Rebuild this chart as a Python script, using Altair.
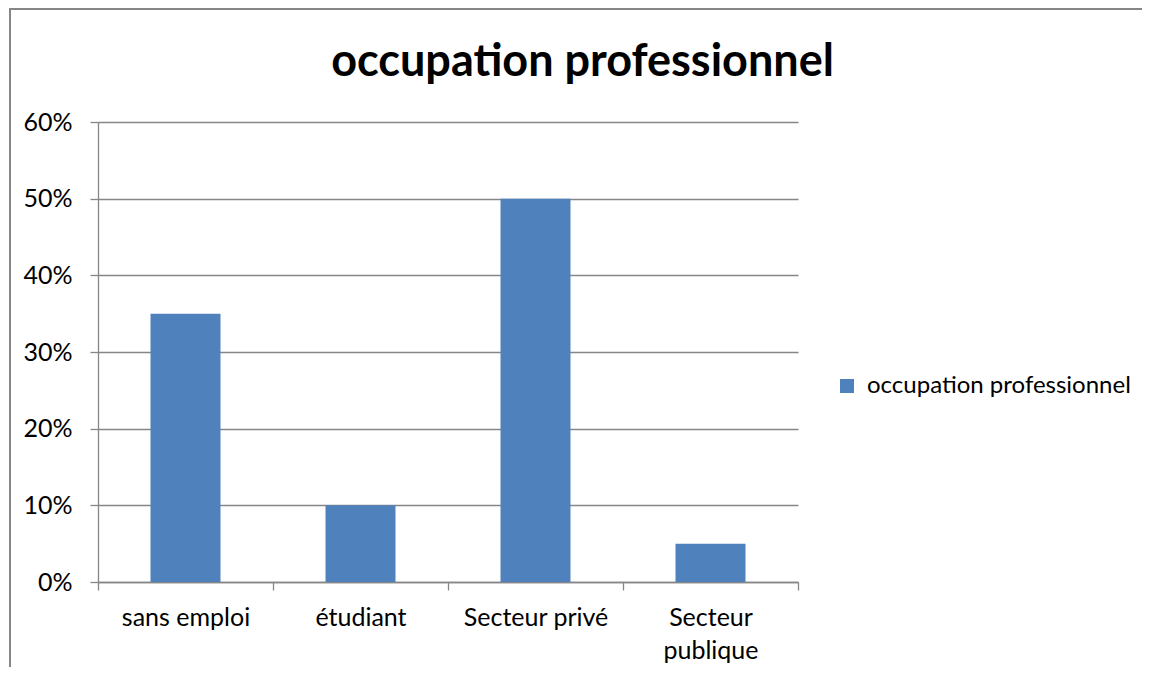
import altair as alt
import pandas as pd

# ---- data ----
categories = ["sans emploi", "étudiant", "Secteur privé", "Secteur publique"]
values = [0.35, 0.10, 0.50, 0.05]
series_name = "occupation professionnel"
title_text = "occupation professionnel"
y_ticks = [0, 0.1, 0.2, 0.3, 0.4, 0.5, 0.6]

FONT = "Lato"
GRAY = "#868686"
BLUE = "#4F81BD"
LABEL_SIZE = 25

df = pd.DataFrame({"cat": categories, "val": values, "series": [series_name] * len(categories)})

bars = alt.Chart(df).mark_bar(width=alt.RelativeBandSize(0.4), color=BLUE).encode(
    x=alt.X(
        "cat:N",
        sort=categories,
        scale=alt.Scale(paddingInner=0, paddingOuter=0),
        axis=alt.Axis(
            title=None, labelAngle=0, tickBand="extent", tickSize=8, ticks=True,
            domainColor=GRAY, tickColor=GRAY, domainWidth=1.3, tickWidth=1.3,
            labelFont=FONT, labelFontSize=LABEL_SIZE, labelPadding=15, labelColor="black",
            labelLineHeight=33, labelAlign="center",
            labelExpr="datum.value == 'Secteur publique' ? ['Secteur', 'publique'] : datum.value",
            grid=False,
        ),
    ),
    y=alt.Y(
        "val:Q",
        scale=alt.Scale(domain=[0, 0.6], nice=False),
        axis=alt.Axis(
            title=None, values=y_ticks, format=".0%", tickSize=8, labelPadding=18,
            domainColor=GRAY, tickColor=GRAY, domainWidth=1.3, tickWidth=1.3,
            grid=True, gridColor=GRAY, gridWidth=1.3, gridOpacity=1,
            labelFont=FONT, labelFontSize=LABEL_SIZE, labelColor="black",
        ),
    ),
    color=alt.Color(
        "series:N",
        scale=alt.Scale(range=[BLUE]),
        legend=alt.Legend(
            title=None, orient="none", legendX=737, legendY=252,
            symbolType="square", symbolSize=196, symbolStrokeWidth=0,
            labelFont=FONT, labelFontSize=24, labelOffset=8, labelColor="black",
            labelLimit=0, padding=0,
        ),
    ),
)

one = pd.DataFrame({"k": [0]})
left_frame = alt.Chart(one).mark_rule(color=GRAY, strokeWidth=2).encode(
    x=alt.value(-88), y=alt.value(-113), y2=alt.value(545)
)
top_frame = alt.Chart(one).mark_rule(color=GRAY, strokeWidth=2).encode(
    x=alt.value(-89), x2=alt.value(1044), y=alt.value(-113)
)

title_df = pd.DataFrame({"t": [title_text]})
title = alt.Chart(title_df).mark_text(
    font=FONT, fontSize=45, fontWeight="bold", align="center", baseline="alphabetic", color="black"
).encode(text="t:N", x=alt.value(484.5), y=alt.value(-46))

chart = alt.layer(bars, left_frame, top_frame, title).properties(
    width=700, height=460, padding=0
).configure_view(stroke=None)

chart.save("out.html", embed_options={"renderer": "svg", "actions": False})
